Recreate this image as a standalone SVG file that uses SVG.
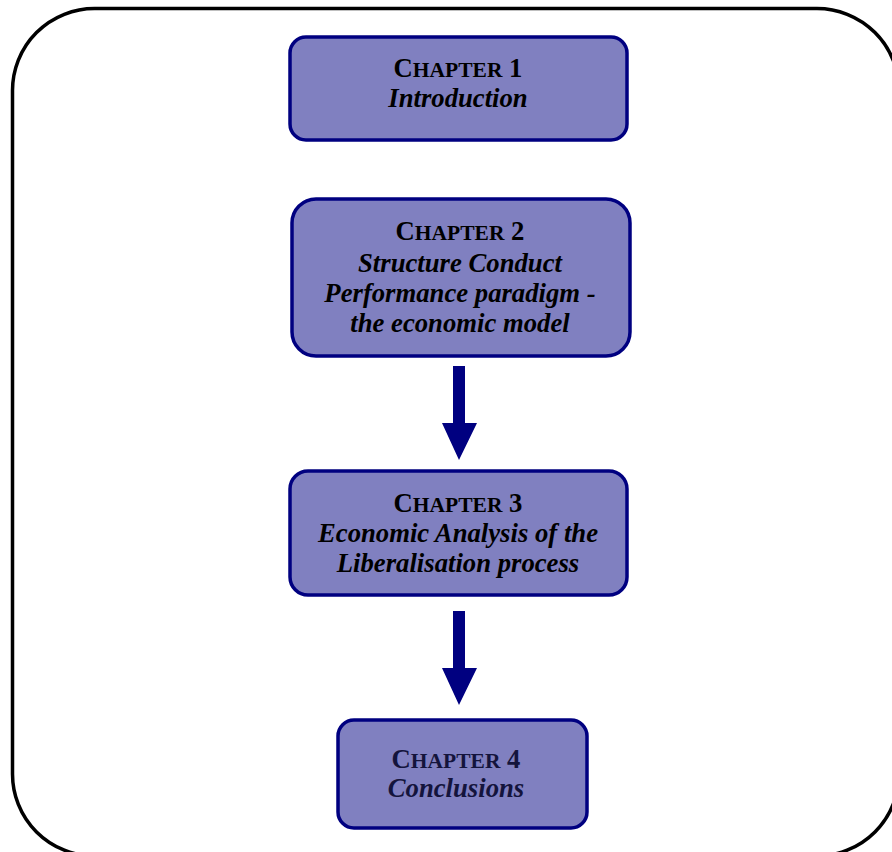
<svg xmlns="http://www.w3.org/2000/svg" width="892" height="852" viewBox="0 0 892 852">
<style>
.box{fill:#8080C0;stroke:#000080;stroke-width:3.5}
.t{font-family:"Liberation Serif","Times New Roman",serif;font-weight:bold;font-size:26.7px;text-anchor:middle;fill:#000}
.i{font-style:italic}
.sc{font-size:21.5px}
.arrow{fill:#000080}
.dk{fill:#14143c}
</style>
<rect x="12.5" y="8.5" width="886.5" height="847.5" rx="82" ry="82" fill="#fff" stroke="#000" stroke-width="3.5"/>
<g id="connectors">
<polygon class="arrow" points="453,366 465,366 465,423 477,423 459,460 442,423 453,423"/>
<polygon class="arrow" points="453,611 465,611 465,668 477,668 459,705 442,668 453,668"/>
</g>
<g id="ch1">
<rect class="box" x="290" y="37" width="337" height="103" rx="16"/>
<text class="t" x="458" y="77">C<tspan class="sc">HAPTER</tspan> 1</text>
<text class="t i" x="458" y="107">Introduction</text>
</g>
<g id="ch2">
<rect class="box" x="292" y="199" width="338" height="157" rx="24"/>
<text class="t" x="460" y="240">C<tspan class="sc">HAPTER</tspan> 2</text>
<text class="t i" x="460" y="272">Structure Conduct</text>
<text class="t i" x="460" y="302">Performance paradigm -</text>
<text class="t i" x="460" y="332">the economic model</text>
</g>
<g id="ch3">
<rect class="box" x="290" y="471" width="337" height="124" rx="18"/>
<text class="t" x="458" y="512">C<tspan class="sc">HAPTER</tspan> 3</text>
<text class="t i" x="458" y="542">Economic Analysis of the</text>
<text class="t i" x="458" y="572">Liberalisation process</text>
</g>
<g id="ch4">
<rect class="box" x="338" y="720" width="249" height="108" rx="16"/>
<text class="t dk" x="456" y="768">C<tspan class="sc">HAPTER</tspan> 4</text>
<text class="t i dk" x="456" y="797">Conclusions</text>
</g>
</svg>
